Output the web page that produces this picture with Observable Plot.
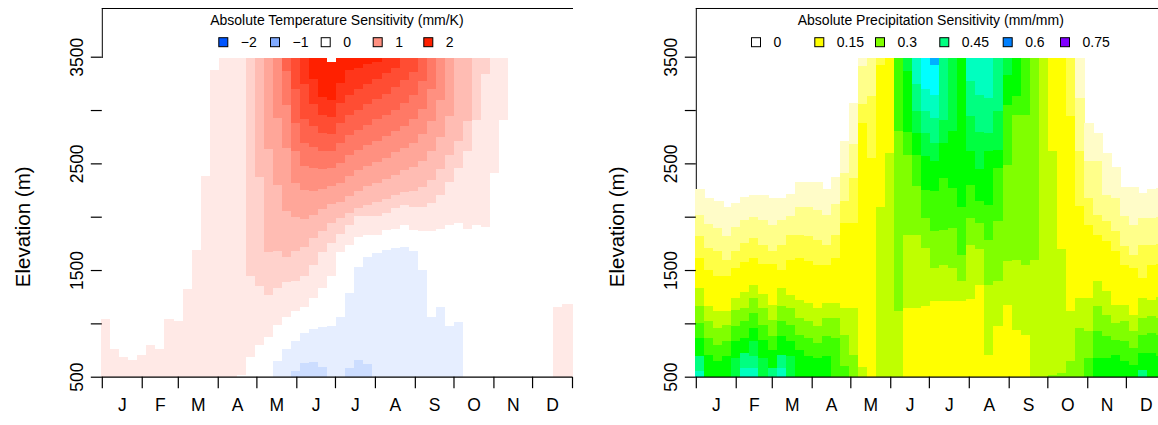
<!DOCTYPE html>
<html><head><meta charset="utf-8">
<script src="https://cdn.jsdelivr.net/npm/d3@7"></script>
<script src="https://cdn.jsdelivr.net/npm/@observablehq/plot@0.6"></script>
<style>
html,body{margin:0;padding:0;background:#fff;overflow:hidden;}
#wrap{position:relative;width:1158px;height:425px;overflow:hidden;font-family:"Liberation Sans",Arial,Helvetica,sans-serif;}
.panel{position:absolute;top:0;}
#legend{position:absolute;left:0;top:0;pointer-events:none;}
</style></head><body><div id="wrap"></div>
<script>
// ---------- axis data ----------
const months = ["J","F","M","A","M","J","J","A","S","O","N","D"];
const monthStarts = [0,31,59,90,120,151,181,212,243,273,304,334,365];
const yTicks = [500,1000,1500,2000,2500,3000,3500];
const yLabels = [500,1500,2500,3500];
const yTitle = "Elevation (m)";

// ---------- temperature sensitivity (52 weekly columns; runs of [level, top elevation] from 500 m up; level = value/0.2) ----------
const tempTitle = "Absolute Temperature Sensitivity (mm/K)";
const tempLegendLabels = ["\u22122","\u22121","0","1","2"];
const tempLegendColors = ["#0055ff","#80aaff","#ffffff","#ff9080","#ff2000"];
const tempLevelColors = {"-2":"#ccddff","-1":"#e6eeff","0":"#ffffff","1":"#ffe9e6","2":"#ffd2cc","3":"#ffbcb3","4":"#ffa699","5":"#ff9080","6":"#ff7966","7":"#ff634d","8":"#ff4d33","9":"#ff361a","10":"#ff2000"};
const tempCols = [
 [1,1050,0,3480],[1,770,0,3480],[1,690,0,3480],[1,665,0,3480],[1,705,0,3480],[1,805,0,3480],
 [1,770,0,3480],[1,1050,0,3480],[1,1025,0,3480],[1,1330,0,3480],[1,1690,0,3480],[1,2390,0,3480],
 [1,3385,0,3480],[1,3480],[1,3480],[0,525,1,3480],
 [0,687,1,1447,2,3480],
 [0,806,1,1353,2,2375,3,3480],
 [0,881,1,1269,2,1672,3,2644,4,3480],
 [-1,650,0,988,1,1337,2,1687,3,2306,4,2931,5,3480],
 [-1,770,0,1070,1,1390,2,1625,3,2056,4,2650,5,3050,6,3370,7,3480],
 [-2,563,-1,844,0,1125,1,1406,2,1687,3,2000,4,2322,5,2620,6,2880,7,3200,8,3480],
 [-2,630,-1,913,0,1163,1,1447,2,1719,3,1987,4,2259,5,2480,6,2700,7,2920,8,3250,9,3480],
 [-2,647,-1,950,0,1244,1,1550,2,1806,3,2025,4,2250,5,2460,6,2660,7,2860,8,3060,9,3300,10,3480],
 [-2,600,-1,969,0,1335,1,1672,2,1869,3,2081,4,2270,5,2450,6,2620,7,2790,8,2960,9,3130,10,3480],
 [-1,985,0,1447,1,1759,2,1947,3,2128,4,2297,5,2460,6,2620,7,2780,8,2940,9,3100,10,3456,0,3480],
 [-1,1070,0,1675,1,1847,2,1990,3,2140,4,2320,5,2510,6,2700,7,2880,8,3070,9,3260,10,3480],
 [-2,585,-1,1288,0,1744,1,1931,2,2040,3,2200,4,2390,5,2580,6,2770,7,2960,8,3150,9,3380,10,3480],
 [-2,666,-1,1531,0,1813,1,2009,2,2090,3,2250,4,2440,5,2630,6,2820,7,3010,8,3200,9,3400,10,3480],
 [-2,626,-1,1625,0,1835,1,2009,2,2120,3,2290,4,2480,5,2680,6,2870,7,3060,8,3250,9,3440,10,3480],
 [-1,1670,0,1835,1,2009,2,2140,3,2320,4,2520,5,2720,6,2920,7,3110,8,3300,9,3460,10,3480],
 [-1,1694,0,1881,1,2041,2,2170,3,2360,4,2560,5,2760,6,2960,7,3160,8,3350,9,3480],
 [-1,1710,0,1891,1,2087,2,2210,3,2400,4,2610,5,2810,6,3010,7,3220,8,3400,9,3480],
 [-1,1725,0,1931,1,2112,2,2240,3,2440,4,2650,5,2860,6,3070,7,3290,8,3480],
 [-1,1688,0,1881,1,2094,2,2250,3,2470,4,2700,5,2920,6,3150,7,3360,8,3480],
 [-1,1510,0,1875,1,2094,2,2280,3,2530,4,2780,5,3020,6,3280,7,3480],
 [-1,1069,0,1875,1,2134,2,2350,3,2620,4,2900,5,3200,6,3480],
 [-1,1163,0,1888,1,2212,2,2450,3,2750,4,3100,5,3480],
 [-1,985,0,1931,1,2328,2,2580,3,2950,4,3480],
 [-1,1022,0,1950,1,2462,2,2720,3,3480],
 [0,1888,1,2625,2,2900,3,3480],
 [0,1931,1,2916,2,3480],
 [0,1906,1,3347,2,3480],
 [0,2416,1,3480],
 [0,2916,1,3480],
 [0,3480],[0,3480],[0,3480],[0,3480],[0,3480],
 [1,1160,0,3480],[1,1190,0,3480]
];

// ---------- precipitation sensitivity (runs of [class, top elevation]; class 0 = no data) ----------
const precTitle = "Absolute Precipitation Sensitivity (mm/mm)";
const precLegendLabels = ["0","0.15","0.3","0.45","0.6","0.75"];
const precLegendColors = ["#ffffff","#ffff00","#80ff00","#00ff80","#0080ff","#8000ff"];
const precLevelColors = ["#ffffff","#fffcc8","#ffff8a","#ffff45","#ffff00","#bfff00","#80ff00","#40ff00","#00ff00","#00ff40","#00ff80","#00ffbf","#00ffff","#00b0ff"];
const precCols = [
 [11,560,10,697,8,869,7,1009,6,1166,5,1338,4,1619,3,1822,2,2025,1,2250],
 [8,712,7,869,6,1025,5,1166,4,1509,3,1712,2,1937,1,2166],
 [8,650,7,806,6,962,5,1119,4,1447,3,1681,2,1900,1,2144],
 [8,697,7,838,6,994,5,1119,4,1447,3,1603,2,1828,1,2087],
 [9,681,8,838,7,978,6,1134,5,1244,4,1525,3,1681,2,1906,1,2125],
 [11,587,10,728,8,869,7,1025,6,1150,5,1300,4,1581,3,1759,2,1972,1,2181],
 [11,587,10,697,9,838,8,962,7,1103,6,1244,5,1369,4,1619,3,1806,2,2003,1,2197],
 [9,681,8,853,7,994,6,1150,5,1281,4,1562,3,1744,2,1972,1,2197],
 [10,587,8,759,7,884,6,1041,5,1181,4,1562,3,1681,2,1931,1,2166],
 [11,587,10,712,8,884,7,1025,6,1166,5,1338,4,1509,3,1744,2,1978,1,2166],
 [9,697,8,838,7,994,6,1150,5,1275,4,1603,3,1837,2,2009,1,2203],
 [8,759,7,900,6,1056,5,1228,4,1619,3,1837,2,2094,1,2322],
 [8,697,7,869,6,1025,5,1197,4,1587,3,1822,2,2094,1,2322],
 [8,681,7,822,6,978,5,1150,4,1550,3,1791,2,2072,1,2322],
 [8,697,7,884,6,1056,5,1197,4,1550,3,1744,2,2025,1,2250],
 [7,869,6,1056,5,1197,4,1619,3,1837,2,2125,1,2369],
 [7,603,6,900,5,1150,4,1947,3,2150,2,2416,1,2706],
 [6,712,5,1150,4,1947,3,2369,2,2688,1,3062],
 [5,600,4,2880,3,3060,2,3416,1,3480],
 [4,2556,3,3134,2,3480],
 [5,2094,4,3431,3,3480],
 [5,2603,4,3480],
 [5,1119,6,2806,7,3480],
 [4,1150,5,1837,6,2588,7,2800,8,3369,9,3480],
 [4,1150,5,1837,6,2291,7,2588,8,2791,9,2994,10,3250,11,3480],
 [4,1166,5,1712,6,1994,7,2259,8,2572,9,2791,10,3000,11,3200,12,3480],
 [4,1212,5,1525,6,1869,7,2244,8,2525,9,2697,10,2931,11,3150,12,3431,13,3480],
 [4,1212,5,1556,6,1884,7,2369,8,2697,9,2916,10,3480],
 [4,1212,5,1525,6,1900,7,2275,8,2806,9,3480],
 [4,1212,5,1400,6,1650,7,2100,8,3480],
 [4,1237,5,1744,6,1994,7,2306,8,2619,9,2947,10,3275,11,3480],
 [4,1369,5,1700,6,1950,7,2150,8,2450,9,2800,10,3150,11,3480],
 [4,712,5,1369,6,1791,7,2119,8,2619,9,2791,10,3119,11,3480],
 [4,978,5,1400,6,1962,7,2462,8,2634,9,2994,10,3480],
 [4,1181,5,1587,6,2494,7,3056,8,3337,9,3480],
 [4,947,5,1603,6,2962,7,3134,8,3480],
 [4,894,5,1556,6,2962,7,3480],
 [5,1603,6,3480],
 [5,3480],
 [6,525,5,2619,4,3480],
 [6,540,5,1700,4,3480],
 [6,650,5,1119,4,2947,3,3480],
 [6,962,5,1244,4,2103,3,2619,2,3119,1,3480],
 [7,681,6,931,5,1244,4,1931,3,2181,2,2525,1,2869],
 [8,681,7,931,6,1166,5,1400,4,1837,3,2025,2,2525,1,2781],
 [8,681,7,884,6,1088,5,1306,4,1775,3,1963,2,2212,1,2588],
 [8,712,7,853,6,1009,5,1181,4,1681,3,1869,2,2181,1,2463],
 [8,650,7,838,6,1025,5,1181,4,1556,3,1728,2,2009,1,2275],
 [8,619,7,775,6,931,5,1087,4,1525,3,1650,2,1931,1,2275],
 [10,572,8,728,7,900,6,1056,5,1244,4,1431,3,1744,2,1994,1,2212],
 [8,728,7,916,6,1072,5,1228,4,1556,3,1744,2,1994,1,2250],
 [8,700,7,900,6,1060,5,1250,4,1560,3,1750,2,2000,1,2260]
];

// ---------- build cells ----------
function buildCells(cols, colorOf) {
  const out = [];
  const w = 365 / cols.length;
  cols.forEach((runs, i) => {
    let lo = 500;
    for (let k = 0; k < runs.length; k += 2) {
      const lvl = runs[k], top = runs[k + 1], fill = colorOf(lvl);
      if (fill) out.push({x1: i * w, x2: (i + 1) * w, y1: lo, y2: top, fill});
      lo = top;
    }
  });
  return out;
}
const tempCells = buildCells(tempCols, l => tempLevelColors[String(l)]);
const precCells = buildCells(precCols, l => (l === 0 ? null : precLevelColors[l]));
const monthMids = months.map((m, i) => (monthStarts[i] + monthStarts[i + 1]) / 2);

const FONT = "Liberation Sans, Arial, Helvetica, sans-serif";
const H = 425, MT = 8, MB = 48.3;
const yTop = 500 + (H - MB - MT) / (320 / 3000);

function panel(cells, width, marginLeft) {
  return Plot.plot({
    width, height: H, marginLeft, marginRight: 7, marginTop: MT, marginBottom: MB,
    style: {fontFamily: FONT, background: "transparent", overflow: "visible"},
    x: {domain: [0, 365]},
    y: {domain: [500, yTop]},
    color: {type: "identity"},
    marks: [
      Plot.frame({anchor: "top", stroke: "#000", strokeWidth: 1}),
      Plot.frame({anchor: "left", stroke: "#000", strokeWidth: 1}),
      Plot.rect(cells, {x1: "x1", x2: "x2", y1: "y1", y2: "y2", fill: "fill", inset: -0.6, shapeRendering: "crispEdges"}),
      Plot.ruleY([500], {stroke: "#000", strokeWidth: 1.2}),
      Plot.axisX({ticks: monthStarts, tickSize: 11.5, tickFormat: () => "", label: null, stroke: "#000", strokeWidth: 1.2}),
      Plot.axisY({ticks: yTicks, tickSize: 11, tickFormat: () => "", label: null, stroke: "#000", strokeWidth: 1.2}),
      Plot.text(monthMids, {x: d => d, text: (d, i) => months[i], frameAnchor: "bottom", lineAnchor: "bottom", dy: 33.5, fontSize: 17.5, fill: "#000"}),
      Plot.text(yLabels, {y: d => d, text: d => String(d), frameAnchor: "left", rotate: -90, lineAnchor: "bottom", textAnchor: "middle", dx: -19, fontSize: 17.5, fill: "#000"}),
      Plot.text([yTitle], {frameAnchor: "left", rotate: -90, lineAnchor: "bottom", textAnchor: "middle", dx: -72.5, dy: 34, fontSize: 20.5, fill: "#000"})
    ]
  });
}

const wrap = document.getElementById("wrap");
const left = panel(tempCells, 579, 101.8);
left.classList.add("panel"); left.style.left = "0px";
wrap.appendChild(left);
const right = panel(precCells, 593.8, 116.8);
right.classList.add("panel"); right.style.left = "579px";
wrap.appendChild(right);

// ---------- legends (layout) ----------
const legSvg = d3.select(wrap).append("svg").attr("id", "legend").attr("width", 1158).attr("height", 60)
  .style("font-family", FONT).style("font-size", "14px");
function legend(title, cx, labels, colors, boxX, labelDx) {
  legSvg.append("text").attr("x", cx).attr("y", 25).attr("text-anchor", "middle").text(title);
  labels.forEach((lab, i) => {
    legSvg.append("rect").attr("x", boxX[i] + 0.5).attr("y", 37.7).attr("width", 9).attr("height", 9)
      .attr("fill", colors[i]).attr("stroke", "#000").attr("stroke-width", 1);
    legSvg.append("text").attr("x", boxX[i] + labelDx).attr("y", 46.8).text(lab);
  });
}
legend(tempTitle, 336.9, tempLegendLabels, tempLegendColors, [218.3, 270, 320.7, 372.7, 423.3], 22.5);
legend(precTitle, 930.8, precLegendLabels, precLegendColors, [751, 814.3, 875, 939.3, 1002.7, 1060], 22.5);
</script></body></html>
